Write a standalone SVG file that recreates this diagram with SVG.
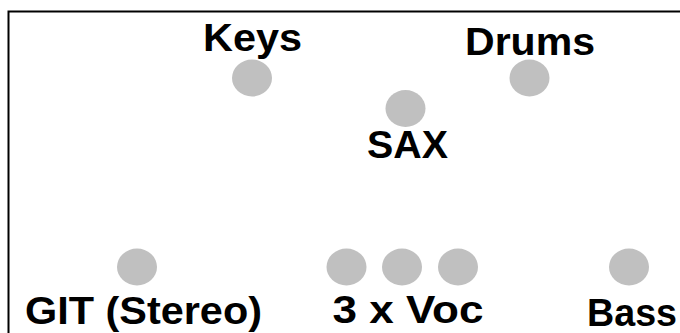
<svg xmlns="http://www.w3.org/2000/svg" width="680" height="333" viewBox="0 0 680 333">
<style>
.dot{fill:#c0c0c0}
.lbl{font-family:"Liberation Sans",Arial,sans-serif;font-weight:bold;font-size:38px;fill:#000;text-anchor:middle}
</style>
<rect width="680" height="333" fill="#fff"/>
<path d="M8.5 333V11.5H680" fill="none" stroke="#000" stroke-width="2"/>
<g id="keys"><ellipse class="dot" cx="252" cy="78" rx="20" ry="18.5"/><text class="lbl" x="252.5" y="51" textLength="99" lengthAdjust="spacingAndGlyphs">Keys</text></g>
<g id="drums"><ellipse class="dot" cx="529.5" cy="78" rx="20" ry="18.5"/><text class="lbl" x="530" y="55" textLength="130" lengthAdjust="spacingAndGlyphs">Drums</text></g>
<g id="sax"><ellipse class="dot" cx="405.5" cy="108.5" rx="20" ry="18.5"/><text class="lbl" x="407.5" y="158" textLength="81" lengthAdjust="spacingAndGlyphs">SAX</text></g>
<g id="git"><ellipse class="dot" cx="137" cy="267" rx="20" ry="18.5"/><text class="lbl" x="143.5" y="324" textLength="237" lengthAdjust="spacingAndGlyphs">GIT (Stereo)</text></g>
<g id="voc"><ellipse class="dot" cx="346.5" cy="267" rx="20" ry="18.5"/><ellipse class="dot" cx="402" cy="267" rx="20" ry="18.5"/><ellipse class="dot" cx="458" cy="267" rx="20" ry="18.5"/><text class="lbl" x="408" y="323" textLength="151" lengthAdjust="spacingAndGlyphs">3 x Voc</text></g>
<g id="bass"><ellipse class="dot" cx="629" cy="267" rx="20" ry="18.5"/><text class="lbl" x="632" y="326" textLength="90" lengthAdjust="spacingAndGlyphs">Bass</text></g>
<g id="connectors"/>
</svg>
